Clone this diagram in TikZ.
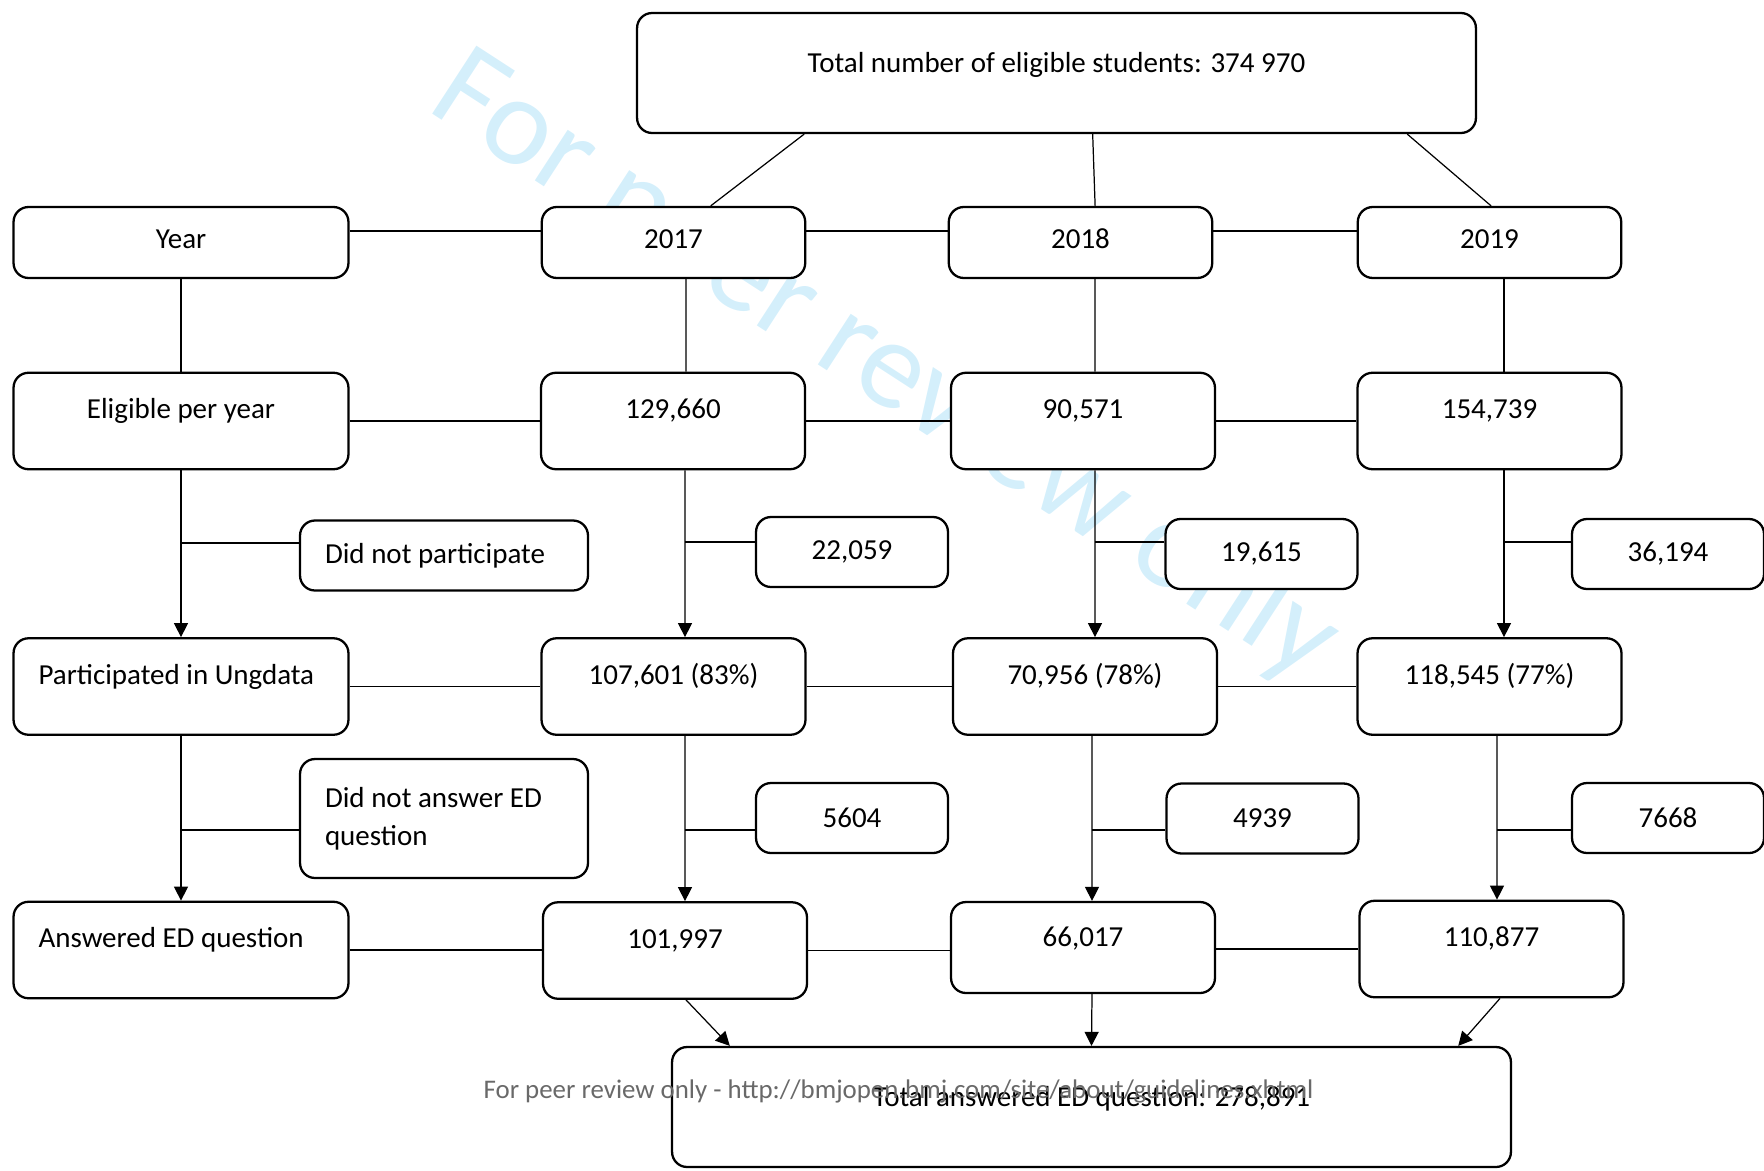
\documentclass[tikz,border=0pt]{standalone}
\usepackage{fontspec}
\setmainfont{Carlito}
\usetikzlibrary{arrows.meta,calc}
\definecolor{wmblue}{RGB}{212,239,251}
\definecolor{footgray}{RGB}{105,105,105}

\begin{document}
\begin{tikzpicture}[x=0.02cm,y=-0.02cm,
           box_style/.style={draw=black,line width=1.3pt,rounded corners=0.3cm,fill=white,inner sep=0pt,font=\fontsize{16.5}{21.6}\selectfont},
           head_style/.style={box_style,minimum width=5.27cm,minimum height=1.42cm,text height=0.83cm,text depth=0.59cm},
           count_style/.style={box_style,minimum width=5.28cm,minimum height=1.93cm,text height=0.92cm,text depth=1.01cm},
           drop_style/.style={box_style,minimum width=3.84cm,minimum height=1.4cm},
           total_style/.style={box_style,minimum width=16.78cm,minimum height=2.4cm,text height=1.19cm,text depth=1.21cm},
           edge_style/.style={draw=black,line width=0.7pt},
           arrow_style/.style={edge_style,-{Triangle[length=0.28cm,width=0.28cm]}}]
            \useasboundingbox (0,0) rectangle (1764,1170);
            \node[text=wmblue,font=\fontsize{72}{72}\selectfont,rotate=-33] (wmark) at (885,368) {For peer review only};
            \node[total_style] (total) at (1056.5,73) {Total number of eligible students: 374 970};
            \node[head_style,minimum width=6.7cm] (year) at (181,242.5) {Year};
            \node[head_style] (y2017) at (673.5,242.5) {2017};
            \node[head_style] (y2018) at (1080.5,242.5) {2018};
            \node[head_style] (y2019) at (1489.5,242.5) {2019};
            \node[count_style,minimum width=6.7cm] (elig) at (181,421) {Eligible per year};
            \node[count_style] (e2017) at (673,421) {129,660};
            \node[count_style] (e2018) at (1083,421) {90,571};
            \node[count_style] (e2019) at (1489.5,421) {154,739};
            \node[drop_style,minimum width=5.76cm,text width=4.76cm,align=flush left] (nopart) at (444,555.5) {Did not participate};
            \node[drop_style] (n2017) at (852,552) {22,059};
            \node[drop_style] (n2018) at (1261.5,554) {19,615};
            \node[drop_style] (n2019) at (1668,554) {36,194};
            \node[count_style,minimum width=6.7cm,text width=5.7cm,align=flush left] (part) at (181,686.5) {Participated in Ungdata};
            \node[count_style] (p2017) at (673.5,686.5) {107,601 (83\%)};
            \node[count_style] (p2018) at (1085,686.5) {70,956 (78\%)};
            \node[count_style] (p2019) at (1489.5,686.5) {118,545 (77\%)};
            \node[drop_style,minimum width=5.76cm,minimum height=2.38cm,text width=4.76cm,align=flush left] (noans) at (444,818.5) {Did not answer ED\\question};
            \node[drop_style] (a2017) at (852,818) {5604};
            \node[drop_style] (a2018) at (1262.5,818.5) {4939};
            \node[drop_style] (a2019) at (1668,818) {7668};
            \node[count_style,minimum width=6.7cm,text width=5.7cm,align=flush left] (ans) at (181,950) {Answered ED question};
            \node[count_style] (r2017) at (675,950.5) {101,997};
            \node[count_style,minimum height=1.82cm,text height=0.88cm,text depth=0.94cm] (r2018) at (1083,947.5) {66,017};
            \node[count_style] (r2019) at (1491.5,949) {110,877};
            \node[total_style] (sum) at (1091.5,1107) {Total answered ED question: 278,891};
            \coordinate (c2017) at ([xshift=0.24cm]e2017.south);
            \coordinate (c2018) at ([xshift=0.24cm]e2018.south);
            \coordinate (c2019) at ([xshift=0.29cm]e2019.south);
            \coordinate (d2017) at ([xshift=0.23cm]p2017.south);
            \coordinate (d2018) at ([xshift=0.14cm]p2018.south);
            \coordinate (d2019) at ([xshift=0.15cm]p2019.south);
            \draw[edge_style] ($(total.south west)!0.2!(total.south east)$) -- ($(y2017.north west)!0.64!(y2017.north east)$);
            \draw[edge_style] ($(total.south west)!0.543!(total.south east)$) -- ($(y2018.north west)!0.555!(y2018.north east)$);
            \draw[edge_style] ($(total.south west)!0.917!(total.south east)$) -- ($(y2019.north west)!0.506!(y2019.north east)$);
            \draw[edge_style] ([yshift=0.23cm]year.east) -- ([yshift=0.23cm]y2017.west);
            \draw[edge_style] ([yshift=0.23cm]y2017.east) -- ([yshift=0.23cm]y2018.west);
            \draw[edge_style] ([yshift=0.23cm]y2018.east) -- ([yshift=0.23cm]y2019.west);
            \draw[edge_style] (elig.east) -- (e2017.west);
            \draw[edge_style] (e2017.east) -- (e2018.west);
            \draw[edge_style] (e2018.east) -- (e2019.west);
            \draw[edge_style] (part.east) -- (p2017.west);
            \draw[edge_style] (p2017.east) -- (p2018.west);
            \draw[edge_style] (p2018.east) -- (p2019.west);
            \draw[edge_style] (ans.east) -- (ans.east -| r2017.west);
            \draw[edge_style] (r2017.east) -- (r2017.east -| r2018.west);
            \draw[edge_style] (r2019.west -| r2018.east) -- (r2019.west);
            \draw[edge_style] (year) -- (elig);
            \draw[edge_style] ([xshift=0.25cm]y2017.south) -- ([xshift=0.26cm]e2017.north);
            \draw[edge_style] ([xshift=0.29cm]y2018.south) -- ([xshift=0.24cm]e2018.north);
            \draw[edge_style] ([xshift=0.29cm]y2019.south) -- ([xshift=0.29cm]e2019.north);
            \draw[arrow_style] (elig) -- (part);
            \draw[arrow_style] (c2017) -- ([xshift=0.23cm]p2017.north);
            \draw[arrow_style] (c2018) -- ([xshift=0.2cm]p2018.north);
            \draw[arrow_style] (c2019) -- ([xshift=0.29cm]p2019.north);
            \draw[edge_style] ([yshift=0.25cm]nopart.west) -- ([yshift=0.25cm]nopart.west -| elig.south);
            \draw[edge_style] ([yshift=0.2cm]n2017.west) -- ([yshift=0.2cm]n2017.west -| c2017);
            \draw[edge_style] ([yshift=0.24cm]n2018.west) -- ([yshift=0.24cm]n2018.west -| c2018);
            \draw[edge_style] ([yshift=0.24cm]n2019.west) -- ([yshift=0.24cm]n2019.west -| c2019);
            \draw[arrow_style] (part) -- (ans);
            \draw[arrow_style] (d2017) -- ([xshift=0.2cm]r2017.north);
            \draw[arrow_style] (d2018) -- ([xshift=0.18cm]r2018.north);
            \draw[arrow_style] (d2019) -- ([xshift=0.11cm]r2019.north);
            \draw[edge_style] ([yshift=-0.23cm]noans.west) -- ([yshift=-0.23cm]noans.west -| part.south);
            \draw[edge_style] ([yshift=-0.24cm]a2017.west) -- ([yshift=-0.24cm]a2017.west -| d2017);
            \draw[edge_style] ([yshift=-0.23cm]a2018.west) -- ([yshift=-0.23cm]a2018.west -| d2018);
            \draw[edge_style] ([yshift=-0.24cm]a2019.west) -- ([yshift=-0.24cm]a2019.west -| d2019);
            \draw[arrow_style] ([xshift=0.22cm]r2017.south) -- ($(sum.north west)!0.07!(sum.north east)$);
            \draw[arrow_style] ([xshift=0.18cm]r2018.south) -- (sum.north);
            \draw[arrow_style] ([xshift=0.17cm]r2019.south) -- ($(sum.north west)!0.936!(sum.north east)$);
            \node[text=footgray,font=\fontsize{15.3}{18}\selectfont] (footer) at (898.5,1091) {For peer review only - http://bmjopen.bmj.com/site/about/guidelines.xhtml};
        \end{tikzpicture}
\end{document}
